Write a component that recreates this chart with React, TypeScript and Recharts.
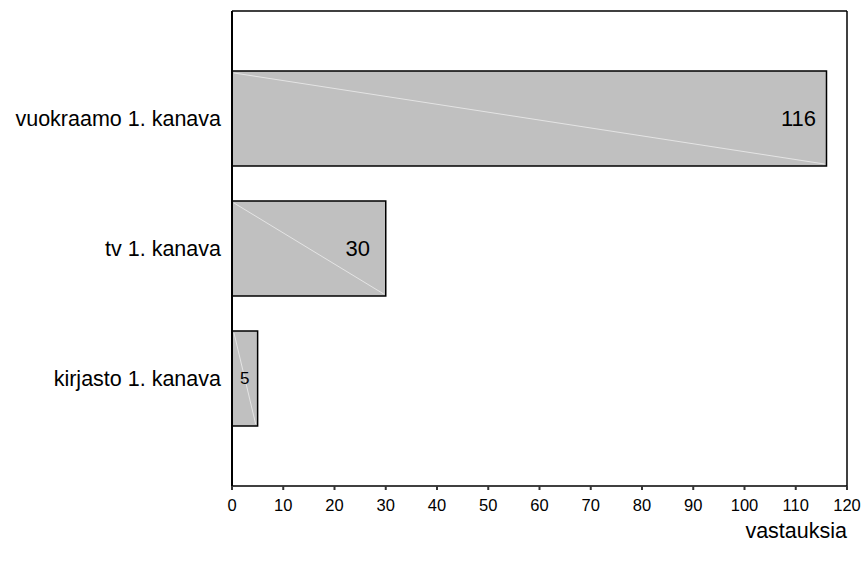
import React from "react";
import { BarChart, Bar, XAxis, YAxis, LabelList, CartesianGrid } from "recharts";

const categories = ["vuokraamo 1. kanava", "tv 1. kanava", "kirjasto 1. kanava"];
const counts = [116, 30, 5];
const xTicks = [0, 10, 20, 30, 40, 50, 60, 70, 80, 90, 100, 110, 120];

const data = categories.map((name, i) => ({ name, value: counts[i] }));

const FONT = "'Liberation Sans', Arial, sans-serif";

// bar with the faint diagonal seen in the source export
function HatchBar(props: any) {
  const { x, y, width, height } = props;
  return (
    <g>
      <rect x={x} y={y} width={width} height={height} fill="#c0c0c0" stroke="#000" strokeWidth={1.5} />
      <line x1={x + 2} y1={y + 2} x2={x + width - 2} y2={y + height - 2} stroke="#e4e4e4" strokeWidth={1} />
    </g>
  );
}

function ValueLabel(props: any) {
  const { x, y, width, height, value } = props;
  const wide = width > 60;
  return (
    <text
      x={wide ? x + width - 28 : x + width / 2}
      y={y + height / 2}
      textAnchor="middle"
      dominantBaseline="central"
      fontSize={wide ? 22 : 17}
      fontFamily={FONT}
      fill="#000"
    >
      {value}
    </text>
  );
}

function XTick(props: any) {
  const { x, y, payload } = props;
  return (
    <text x={x} y={y + 7} textAnchor="middle" dominantBaseline="hanging" fontSize={16.5} fontFamily={FONT} fill="#000">
      {payload.value}
    </text>
  );
}

export default function App() {
  return (
    <div style={{ position: "absolute", left: 0, top: 0, background: "#fff" }}>
      <BarChart
        width={863}
        height={565}
        data={data}
        layout="vertical"
        margin={{ top: 11, right: 16, bottom: 27, left: 0 }}
      >
        {/* frame: top and right edges of the plot box */}
        <CartesianGrid
          stroke="#000"
          strokeWidth={1.5}
          horizontalCoordinatesGenerator={({ offset }: any) => [offset.top]}
          verticalCoordinatesGenerator={({ offset }: any) => [offset.left + offset.width]}
        />
        <XAxis
          type="number"
          dataKey="value"
          domain={[0, 120]}
          ticks={xTicks}
          interval={0}
          height={52}
          axisLine={{ stroke: "#000", strokeWidth: 1.5 }}
          tickLine={{ stroke: "#333", strokeWidth: 2 }}
          tickSize={4}
          tick={<XTick />}
          label={{ value: "vastauksia", position: "insideBottomRight", offset: 0, fontSize: 21.5, fill: "#000", fontFamily: FONT }}
        />
        <YAxis
          type="category"
          dataKey="name"
          width={232}
          padding={{ top: 42, bottom: 43 }}
          axisLine={{ stroke: "#000", strokeWidth: 2 }}
          tickLine={false}
          tickMargin={5}
          tick={{ fontSize: 21.5, fill: "#000", fontFamily: FONT }}
        />
        <Bar dataKey="value" barSize={95} shape={<HatchBar />} isAnimationActive={false}>
          <LabelList dataKey="value" content={<ValueLabel />} />
        </Bar>
      </BarChart>
    </div>
  );
}
